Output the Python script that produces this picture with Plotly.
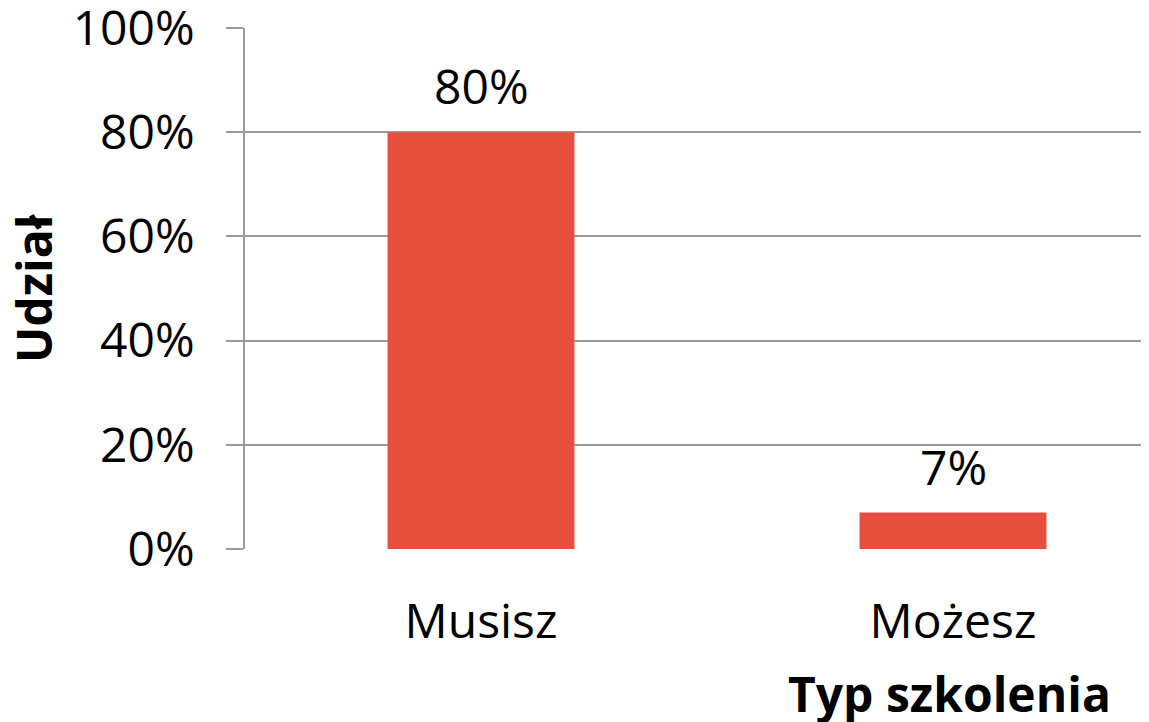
import plotly.graph_objects as go

categories = ["Musisz", "Możesz"]
values = [80, 7]
labels = ["80%", "7%"]
y_ticks = [0, 20, 40, 60, 80, 100]
y_tick_text = ["0%", "20%", "40%", "60%", "80%", "100%"]

FONT = "Open Sans"
FS = 48
GRID = "#9a9a9a"
OFF = 8  # default body margin of the html page
EXTRA = 16  # let the plot run a little past the right window edge
W, H = 1149 - OFF + EXTRA, 722 - OFF
L, R, T, B = 245 - OFF, 0, 28 - OFF, H - (549 - OFF)
PW = W - L - R
PH = H - T - B
CAT_PX = 472  # pixels per category
X_LEFT = -(481 - 245) / CAT_PX
X_RIGHT = X_LEFT + PW / CAT_PX


def px_x(page_x):
    return (page_x - OFF - L) / PW


def px_y(page_y):
    return (T + PH - (page_y - OFF)) / PH


fig = go.Figure()
fig.add_trace(go.Bar(
    x=categories, y=values,
    marker=dict(color="#E74F3D", line=dict(width=0)),
    width=0.396,
))

annotations = []
for c, v, t in zip(categories, values, labels):
    annotations.append(dict(
        x=c, y=v, xref="x", yref="y", text=t, showarrow=False,
        yanchor="bottom", xanchor="center", yshift=12,
        font=dict(family=FONT, size=FS, color="black"),
    ))
annotations.append(dict(
    text="<b>Typ szkolenia</b>", xref="paper", yref="paper",
    x=px_x(1113), y=px_y(693), xanchor="right", yanchor="middle",
    showarrow=False, font=dict(family=FONT, size=FS, color="black"),
))
annotations.append(dict(
    text="<b>Udział</b>", xref="paper", yref="paper", textangle=-90,
    x=px_x(33), y=px_y(288), xanchor="center", yanchor="middle",
    showarrow=False, font=dict(family=FONT, size=FS, color="black"),
))

fig.update_layout(
    width=W, height=H,
    margin=dict(l=L, r=R, t=T, b=B, autoexpand=False),
    plot_bgcolor="white", paper_bgcolor="white",
    showlegend=False,
    font=dict(family=FONT, size=FS, color="black"),
    xaxis=dict(
        range=[X_LEFT, X_RIGHT], showgrid=False, ticks="", showline=False,
        tickfont=dict(family=FONT, size=FS, color="black"),
        ticklabelstandoff=40, automargin=False,
    ),
    yaxis=dict(
        range=[0, 100], tickvals=y_ticks, ticktext=y_tick_text,
        showgrid=True, gridcolor=GRID, gridwidth=1.5,
        showline=True, linecolor=GRID, linewidth=1.5,
        ticks="outside", ticklen=17, tickcolor=GRID, tickwidth=1.5,
        tickfont=dict(family=FONT, size=FS, color="black"),
        ticklabelstandoff=22, ticklabeloverflow="allow",
        zeroline=False, automargin=False,
    ),
    annotations=annotations,
)

fig.write_html("out.html")
